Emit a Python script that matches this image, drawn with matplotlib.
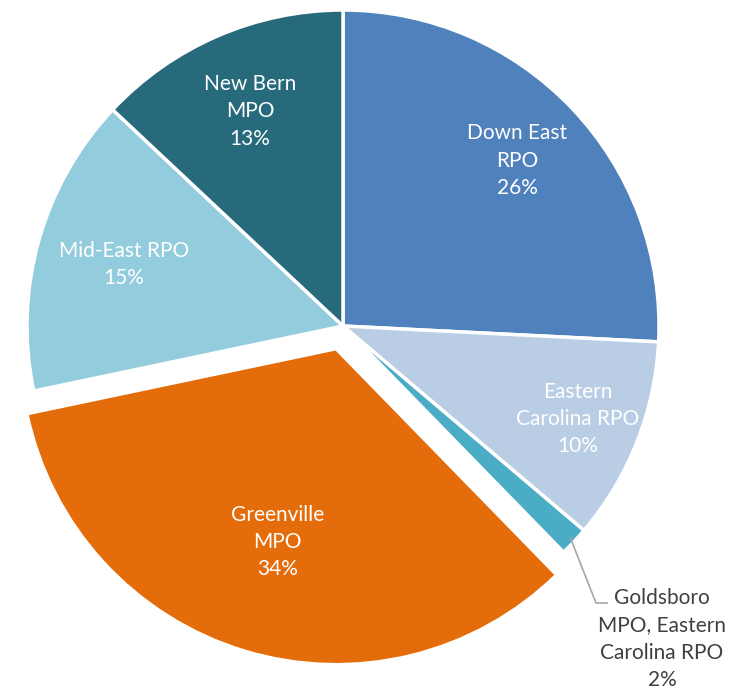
"""Pie chart of share by planning organisation."""
import numpy as np
import matplotlib
matplotlib.use("agg")
import matplotlib.pyplot as plt

plt.rcParams["font.family"] = ["Lato", "DejaVu Sans"]

LABELS = [
    "Down East\nRPO",
    "Eastern\nCarolina RPO",
    "Goldsboro\nMPO, Eastern\nCarolina RPO",
    "Greenville\nMPO",
    "Mid-East RPO",
    "New Bern\nMPO",
]
VALUES = [25.8, 10.4, 1.5, 34.0, 15.3, 13.0]
PCT_TEXT = ["26%", "10%", "2%", "34%", "15%", "13%"]
COLORS = ["#4F81BD", "#B9CDE5", "#4BACC6", "#E46C0A", "#93CDDD", "#276A7C"]
EXPLODE_FRAC = [0, 0, 0, 0.075, 0, 0]
# radial position of the label inside each wedge (fraction of radius)
LABEL_R = [0.76, 0.80, None, 0.64, 0.72, 0.74]

W, H = 731, 694
fig = plt.figure(figsize=(W / 100, H / 100), dpi=100)
ax = fig.add_axes([0, 0, 1, 1])

R = 316
cx, cy = 343, H - 326
# pie's explode is in data units, so scale by the radius
wedges, _ = ax.pie(
    VALUES,
    colors=COLORS,
    explode=[e * R for e in EXPLODE_FRAC],
    startangle=90,
    counterclock=False,
    radius=R,
    center=(cx, cy),
    wedgeprops=dict(edgecolor="white", linewidth=2.5),
    frame=True,
)
ax.set_xlim(0, W)
ax.set_ylim(0, H)
ax.set_aspect("equal")
ax.axis("off")

for w, lab, pct, rf in zip(wedges, LABELS, PCT_TEXT, LABEL_R):
    if rf is None:
        continue
    mid = np.deg2rad((w.theta1 + w.theta2) / 2)
    x = w.center[0] + rf * R * np.cos(mid)
    y = w.center[1] + rf * R * np.sin(mid)
    ax.text(x, y, f"{lab}\n{pct}", ha="center", va="center", color="white",
            fontsize=15, linespacing=1.45)

# small slice: label outside with leader line
w = wedges[2]
mid = np.deg2rad((w.theta1 + w.theta2) / 2)
ex = w.center[0] + R * 0.985 * np.cos(mid)
ey = w.center[1] + R * 0.985 * np.sin(mid)
ax.plot([ex, 596, 607], [ey, H - 603, H - 603], color="#A6A6A6", lw=1.2)
ax.text(662, H - 639, f"{LABELS[2]}\n{PCT_TEXT[2]}", ha="center", va="center",
        color="#404040", fontsize=15, linespacing=1.45)

fig.savefig("out.png", dpi=100)
